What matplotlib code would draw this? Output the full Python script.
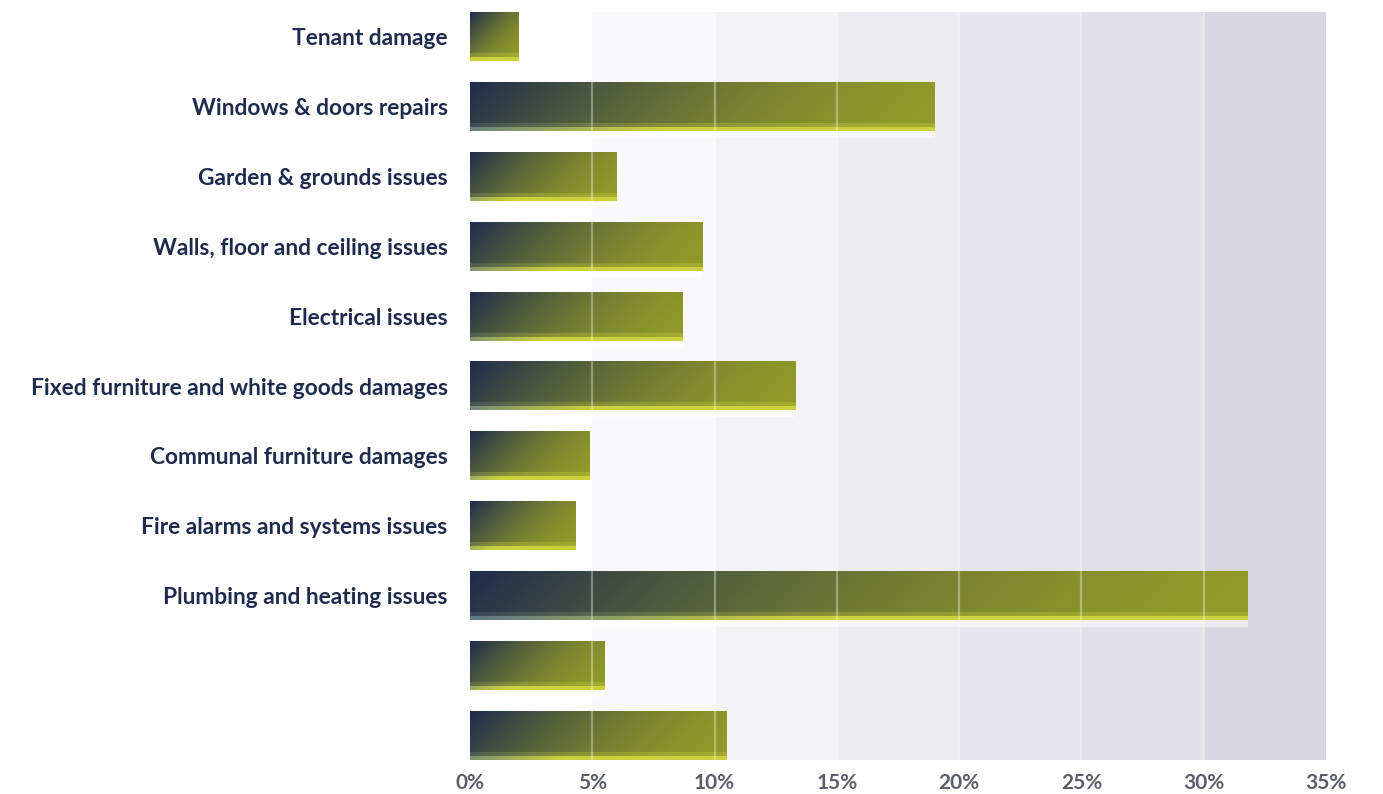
import matplotlib
matplotlib.use('Agg')
import matplotlib.pyplot as plt
import numpy as np
from matplotlib.colors import to_rgb

# data
categories = ['Tenant damage', 'Windows & doors repairs', 'Garden & grounds issues',
              'Walls, floor and ceiling issues', 'Electrical issues',
              'Fixed furniture and white goods damages', 'Communal furniture damages',
              'Fire alarms and systems issues', 'Plumbing and heating issues', '', '']
values = [2.0, 19.0, 6.0, 9.5, 8.7, 13.3, 4.9, 4.3, 31.8, 5.5, 10.5]
xticks = [0, 5, 10, 15, 20, 25, 30, 35]
xtick_labels = ['0%', '5%', '10%', '15%', '20%', '25%', '30%', '35%']

band_colors = ['#ffffff', '#f9f9fb', '#f3f3f6', '#ececf1', '#e7e6ec', '#e1e0e7', '#d8d6e1']

navy = np.array(to_rgb('#1f2b4d'))
olive = np.array(to_rgb('#919a29'))
strip_left = np.array(to_rgb('#4a6592'))
strip_right = np.array(to_rgb('#cbd13d'))


def bar_image(w_px, h_px=49):
    nc = max(int(w_px), 2)
    xp = np.linspace(0, w_px, nc)[None, :]
    yp = np.linspace(0, h_px, h_px)[:, None]
    # 45 degree gradient in pixel space
    t = (xp + yp) / (w_px + h_px)
    g = 1 - (1 - t) ** 1.75
    img = navy + (olive - navy) * g[..., None]
    # bottom strip
    f = np.clip(g * 1.5, 0, 1)[..., None]
    strip = strip_left + (strip_right - strip_left) * f
    vv = np.broadcast_to(yp / h_px, t.shape)
    upper = (vv >= 0.84) & (vv < 0.92)
    lower = vv >= 0.92
    img[upper] = img[upper] * 0.7 + strip[upper] * 0.3
    img[lower] = strip[lower]
    return img


fig = plt.figure(figsize=(13.83, 7.94), dpi=100)
ax = fig.add_axes([0.3398, 0.0428, 0.9588 - 0.3398, 0.9849 - 0.0428])

y = np.arange(len(values))
bar_h = 0.7

# background bands
for i, c in enumerate(band_colors):
    ax.axvspan(xticks[i], xticks[i + 1], color=c, lw=0, zorder=0)

bars = ax.barh(y, values, height=bar_h, color='none', lw=0, zorder=3)

# light reflection under each bar
ax.barh(y + bar_h / 2 + 0.05, values, height=0.1, color='white', alpha=0.5, lw=0, zorder=1)

px_per_unit = (0.9588 - 0.3398) * 1383 / 35
for p, val in zip(bars.patches, values):
    x0, y0 = p.get_x(), p.get_y()
    img = bar_image(val * px_per_unit)
    ax.imshow(img, extent=(x0, x0 + p.get_width(), y0 + p.get_height(), y0),
              aspect='auto', interpolation='bilinear', zorder=2)

ax.set_xlim(0, 35)
ax.set_ylim(len(values) - 1 + 0.35, -0.35)

# grid lines over everything
for g in xticks[1:-1]:
    ax.axvline(g, color='white', alpha=0.35, lw=1.6, zorder=4)

ax.set_yticks(y)
ax.set_yticklabels(categories, fontsize=16.4, fontweight='bold', color='#1f2b4d', family='Lato')
ax.set_xticks(xticks)
ax.set_xticklabels(xtick_labels, fontsize=15, fontweight='bold', color='#5b5e6a', family='Lato')
ax.tick_params(axis='y', length=0, pad=16)
ax.tick_params(axis='x', length=0, pad=9)
for s in ax.spines.values():
    s.set_visible(False)

fig.savefig('out.png', dpi=100)
